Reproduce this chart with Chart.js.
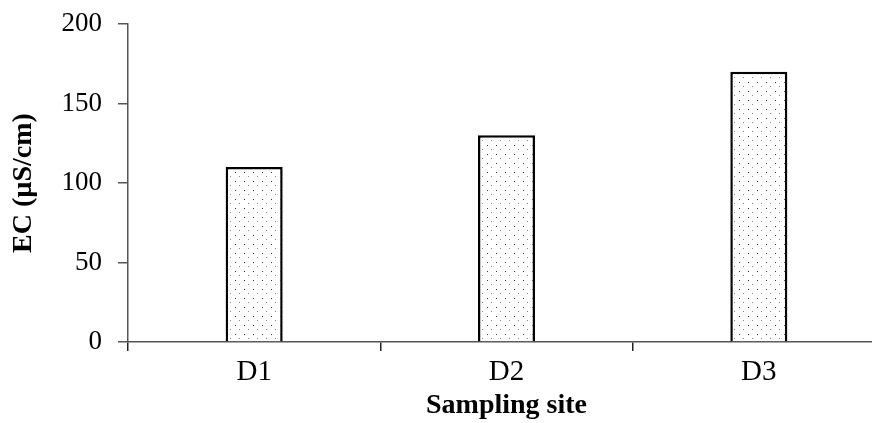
<!DOCTYPE html>
<html>
<head>
<meta charset="utf-8">
<script src="https://cdn.jsdelivr.net/npm/chart.js@4"></script>
<style>
html,body{margin:0;padding:0;overflow:hidden;background:#fff;width:872px;height:423px;}
canvas{display:block;}
</style>
</head>
<body>
<canvas id="c" width="890" height="423"></canvas>
<script>
const categories = ["D1", "D2", "D3"];
const ecValues = [110, 130, 170];
const yTicks = [0, 50, 100, 150, 200];

function makePattern() {
  const p = document.createElement('canvas');
  p.width = 9; p.height = 9;
  const g = p.getContext('2d');
  g.fillStyle = '#fff';
  g.fillRect(0, 0, 9, 9);
  g.fillStyle = '#333';
  g.fillRect(1, 1, 1, 1);
  g.fillStyle = '#888';
  g.fillRect(5, 5, 1, 1);
  return document.getElementById('c').getContext('2d').createPattern(p, 'repeat');
}

const serif = "'Liberation Serif', 'Times New Roman', serif";

new Chart(document.getElementById('c'), {
  type: 'bar',
  data: {
    labels: categories,
    datasets: [{
      data: ecValues,
      backgroundColor: makePattern(),
      borderColor: '#000',
      borderWidth: 2.5,
      borderSkipped: 'bottom',
      categoryPercentage: 1,
      barPercentage: 0.226
    }]
  },
  options: {
    responsive: false,
    animation: false,
    devicePixelRatio: 1,
    layout: { padding: { left: 0, right: 5, top: 24, bottom: 0 } },
    plugins: { legend: { display: false }, tooltip: { enabled: false } },
    scales: {
      x: {
        offset: true,
        grid: { display: true, drawOnChartArea: false, drawTicks: true, tickLength: 9, color: '#222', lineWidth: 1.5, offset: true },
        border: { display: true, color: '#555', width: 1.5 },
        ticks: { color: '#000', font: { family: serif, size: 29 }, padding: 4 },
        title: { display: true, text: 'Sampling site', color: '#000', font: { family: serif, size: 28, weight: 'bold' }, padding: { top: 0, bottom: 0 } },
        afterFit: (s) => { s.height = 423 - 342; s.paddingLeft = 0; s.paddingRight = 0; }
      },
      y: {
        min: 0, max: 200,
        afterBuildTicks: (s) => { s.ticks = yTicks.map(v => ({ value: v })); },
        grid: { display: true, drawOnChartArea: false, drawTicks: true, tickLength: 10, color: '#555', lineWidth: 1.5 },
        border: { display: true, color: '#555', width: 1.5 },
        ticks: { color: '#000', font: { family: serif, size: 27 }, padding: 16 },
        title: { display: true, text: 'EC (µS/cm)', color: '#000', font: { family: serif, size: 28, weight: 'bold' }, padding: { top: 7, bottom: 0 } },
        afterFit: (s) => { s.width = 128; s.paddingTop = 0; s.paddingBottom = 0; }
      }
    }
  }
});
</script>
</body>
</html>
